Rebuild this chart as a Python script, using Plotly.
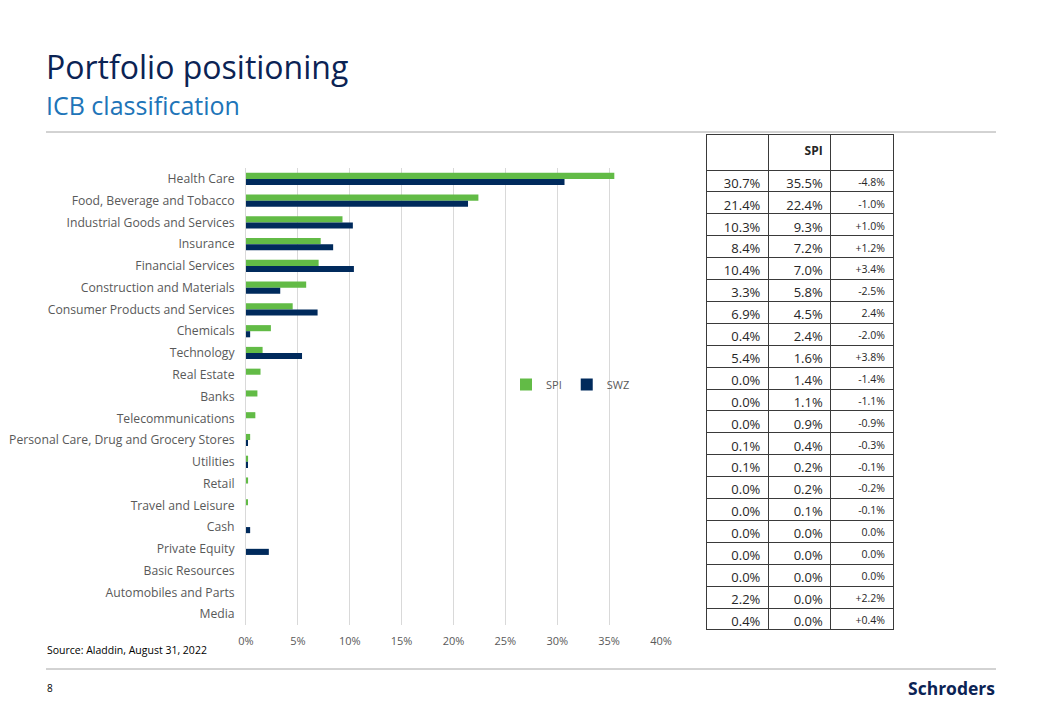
import plotly.graph_objects as go

# ---------------- data ----------------
categories = [
    "Health Care", "Food, Beverage and Tobacco", "Industrial Goods and Services",
    "Insurance", "Financial Services", "Construction and Materials",
    "Consumer Products and Services", "Chemicals", "Technology", "Real Estate",
    "Banks", "Telecommunications", "Personal Care, Drug and Grocery Stores",
    "Utilities", "Retail", "Travel and Leisure", "Cash", "Private Equity",
    "Basic Resources", "Automobiles and Parts", "Media",
]
spi = [35.5, 22.4, 9.3, 7.2, 7.0, 5.8, 4.5, 2.4, 1.6, 1.4, 1.1, 0.9, 0.4,
       0.2, 0.2, 0.1, 0.0, 0.0, 0.0, 0.0, 0.0]
swz = [30.7, 21.4, 10.3, 8.4, 10.4, 3.3, 6.9, 0.4, 5.4, 0.0, 0.0, 0.0, 0.1,
       0.1, 0.0, 0.0, 0.4, 2.2, 0.0, 0.0, 0.0]

x_ticks = [0, 5, 10, 15, 20, 25, 30, 35, 40]
x_tick_labels = ["0%", "5%", "10%", "15%", "20%", "25%", "30%", "35%", "40%"]

table_header = ["", "<b>SPI</b>", ""]
table_swz = ["30.7%", "21.4%", "10.3%", "8.4%", "10.4%", "3.3%", "6.9%", "0.4%",
             "5.4%", "0.0%", "0.0%", "0.0%", "0.1%", "0.1%", "0.0%", "0.0%",
             "0.0%", "0.0%", "0.0%", "2.2%", "0.4%"]
table_spi = ["35.5%", "22.4%", "9.3%", "7.2%", "7.0%", "5.8%", "4.5%", "2.4%",
             "1.6%", "1.4%", "1.1%", "0.9%", "0.4%", "0.2%", "0.2%", "0.1%",
             "0.0%", "0.0%", "0.0%", "0.0%", "0.0%"]
table_diff = ["-4.8%", "-1.0%", "+1.0%", "+1.2%", "+3.4%", "-2.5%", "2.4%", "-2.0%",
              "+3.8%", "-1.4%", "-1.1%", "-0.9%", "-0.3%", "-0.1%", "-0.2%", "-0.1%",
              "0.0%", "0.0%", "0.0%", "+2.2%", "+0.4%"]

# ---------------- styling ----------------
W, H = 1040, 720
OFF = 8  # page body margin
GREEN = "#62bb46"
NAVY = "#002a5c"
FONT = "Open Sans"
GRAY_TXT = "#595959"


def px_x(v):
    return (v - OFF) / W


def px_y(v):
    return 1 - (v - OFF) / H


fig = go.Figure()
fig.add_trace(go.Bar(y=categories, x=spi, name="SPI", orientation="h",
                     marker=dict(color=GREEN, line=dict(width=0))))
fig.add_trace(go.Bar(y=categories, x=swz, name="SWZ", orientation="h",
                     marker=dict(color=NAVY, line=dict(width=0))))

fig.add_trace(go.Table(
    domain=dict(x=[px_x(706), px_x(893)], y=[px_y(640), px_y(134)]),
    columnwidth=[1, 1, 1],
    header=dict(values=table_header, height=36, align="right",
                line=dict(color="#3a3a3a", width=1),
                fill=dict(color="white"),
                font=dict(family=FONT, size=12, color="#262626")),
    cells=dict(values=[table_swz, table_spi, table_diff], height=21.9,
               align="right",
               line=dict(color="#3a3a3a", width=1),
               fill=dict(color="white"),
               font=dict(family=FONT, size=[13, 13, 10.5], color="#262626")),
))

fig.update_layout(
    width=W, height=H,
    margin=dict(l=0, r=0, t=0, b=0, autoexpand=False),
    paper_bgcolor="white", plot_bgcolor="white",
    barmode="group", bargap=0.44, bargroupgap=0,
    font=dict(family=FONT, color=GRAY_TXT),
    showlegend=True,
    legend=dict(orientation="h", x=px_x(506), y=px_y(370), xanchor="left",
                yanchor="top", font=dict(size=11, color=GRAY_TXT),
                bgcolor="rgba(0,0,0,0)", traceorder="normal",
                itemwidth=30),
    xaxis=dict(domain=[px_x(246), px_x(661)], range=[0, 40],
               tickvals=x_ticks, ticktext=x_tick_labels, automargin=False,
               showgrid=True, gridcolor="#d9d9d9", gridwidth=1,
               zeroline=False, showline=False, ticks="", ticklabelstandoff=8,
               tickfont=dict(size=11, color=GRAY_TXT)),
    yaxis=dict(domain=[px_y(625), px_y(168)], autorange="reversed",
               type="category", showgrid=False, zeroline=False,
               automargin=False,
               showline=True, linecolor="#d9d9d9", linewidth=1,
               ticks="", ticklabelstandoff=8,
               tickfont=dict(size=12.2, color=GRAY_TXT)),
)

# title texts
fig.add_annotation(x=px_x(44), y=px_y(66), xref="paper", yref="paper",
                   text="Portfolio positioning", showarrow=False,
                   xanchor="left", yanchor="middle",
                   font=dict(family=FONT, size=32, color="#0b2354"))
fig.add_annotation(x=px_x(44), y=px_y(105), xref="paper", yref="paper",
                   text="ICB classification", showarrow=False,
                   xanchor="left", yanchor="middle",
                   font=dict(family=FONT, size=25, color="#2074b8"))
fig.add_annotation(x=px_x(45), y=px_y(650), xref="paper", yref="paper",
                   text="Source: Aladdin, August 31, 2022", showarrow=False,
                   xanchor="left", yanchor="middle",
                   font=dict(family=FONT, size=10.5, color="#000000"))
fig.add_annotation(x=px_x(45), y=px_y(688), xref="paper", yref="paper",
                   text="8", showarrow=False, xanchor="left", yanchor="middle",
                   font=dict(family=FONT, size=10, color="#000000"))
fig.add_annotation(x=px_x(997), y=px_y(688), xref="paper", yref="paper",
                   text="<b>Schroders</b>", showarrow=False,
                   xanchor="right", yanchor="middle",
                   font=dict(family=FONT, size=17.5, color="#0b2354"))

# separator lines
fig.add_shape(type="line", xref="paper", yref="paper",
              x0=px_x(46), x1=px_x(996), y0=px_y(132), y1=px_y(132),
              line=dict(color="#a6a6a6", width=1))
fig.add_shape(type="line", xref="paper", yref="paper",
              x0=px_x(46), x1=px_x(996), y0=px_y(669), y1=px_y(669),
              line=dict(color="#a6a6a6", width=1))

fig.write_html("out.html")
